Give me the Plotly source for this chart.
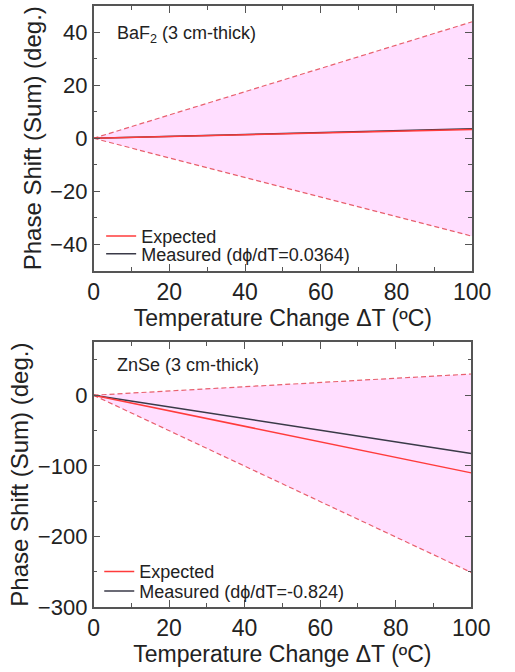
import plotly.graph_objects as go

# ---- data ----
dT = [0, 100]
baf2_upper = [0, 44]
baf2_lower = [0, -37]
baf2_expected = [0, 3.3]
baf2_measured = [0, 3.64]

znse_upper = [0, 30]
znse_lower = [0, -251]
znse_expected = [0, -110]
znse_measured = [0, -82.4]

x_ticks = [0, 20, 40, 60, 80, 100]
top_y_ticks = [-40, -20, 0, 20, 40]
bot_y_ticks = [-300, -200, -100, 0]

W, H = 515, 672
FONT = "Liberation Sans, Arial, sans-serif"
FILL = "rgba(255,222,255,1)"
DASH = "#e8606e"
RED = "#ff3b3b"
DARK = "#3a3a48"
AX = "#555555"
TXT = "#222222"

def px_x(a, b):
    return [a / W, b / W]

def px_y(top, bottom):
    return [1 - bottom / H, 1 - top / H]

fig = go.Figure()

panels = [
    dict(xa="x", ya="y", up=baf2_upper, lo=baf2_lower, ex=baf2_expected, me=baf2_measured,
         meas_label="Measured (d\u03d5/dT=0.0364)", leg_ex="legend", leg_me="legend2"),
    dict(xa="x2", ya="y2", up=znse_upper, lo=znse_lower, ex=znse_expected, me=znse_measured,
         meas_label="Measured (d\u03d5/dT=-0.824)", leg_ex="legend3", leg_me="legend4"),
]

for p in panels:
    fig.add_trace(go.Scatter(x=dT, y=p["up"], xaxis=p["xa"], yaxis=p["ya"], mode="lines",
                             line=dict(color=DASH, width=1.2, dash="5px,3px"), showlegend=False,
                             hoverinfo="skip"))
    fig.add_trace(go.Scatter(x=dT, y=p["lo"], xaxis=p["xa"], yaxis=p["ya"], mode="lines",
                             line=dict(color=DASH, width=1.2, dash="5px,3px"), fill="tonexty",
                             fillcolor=FILL, showlegend=False, hoverinfo="skip"))
    fig.add_trace(go.Scatter(x=dT, y=p["me"], xaxis=p["xa"], yaxis=p["ya"], mode="lines",
                             line=dict(color=DARK, width=1.5), name=p["meas_label"],
                             legend=p["leg_me"]))
    fig.add_trace(go.Scatter(x=dT, y=p["ex"], xaxis=p["xa"], yaxis=p["ya"], mode="lines",
                             line=dict(color=RED, width=1.5), name="Expected",
                             legend=p["leg_ex"]))

common_x = dict(range=[0, 100], tickvals=x_ticks, ticks="inside", ticklen=7, tickwidth=1.2,
                tickcolor=AX, showline=True, linecolor=AX, linewidth=1.5, mirror="ticks",
                showgrid=False, zeroline=False,
                minor=dict(dtick=10, ticks="inside", ticklen=4, tickcolor=AX, tickwidth=1.2),
                tickfont=dict(size=23, color=TXT),
                title=dict(text="Temperature Change \u0394T (\u00baC)", font=dict(size=23, color=TXT),
                           standoff=0))
common_y = dict(ticks="inside", ticklen=7, tickwidth=1.2, tickcolor=AX, showline=True,
                linecolor=AX, linewidth=1.5, mirror="ticks", showgrid=False, zeroline=False,
                tickfont=dict(size=22, color=TXT),
                title=dict(text="Phase Shift (Sum) (deg.)", font=dict(size=24, color=TXT),
                           standoff=2))

def leg(x, yc):
    return dict(x=x / W, y=1 - yc / H, xanchor="left", yanchor="middle",
                bgcolor="rgba(0,0,0,0)", font=dict(size=18, color=TXT),
                itemwidth=30, tracegroupgap=0)

fig.update_layout(
    width=W, height=H, margin=dict(l=0, r=0, t=0, b=0),
    paper_bgcolor="white", plot_bgcolor="white",
    font=dict(family=FONT, color=TXT),
    xaxis=dict(domain=px_x(92, 490), anchor="y", **common_x),
    yaxis=dict(domain=px_y(6, 276), anchor="x", range=[-50, 50], tickvals=top_y_ticks,
               minor=dict(dtick=10, ticks="inside", ticklen=4, tickcolor=AX, tickwidth=1.2),
               **common_y),
    xaxis2=dict(domain=px_x(92, 489), anchor="y2", **common_x),
    yaxis2=dict(domain=px_y(349, 619), anchor="x2", range=[-300, 75], tickvals=bot_y_ticks,
                minor=dict(dtick=50, ticks="inside", ticklen=4, tickcolor=AX, tickwidth=1.2),
                **common_y),
    legend=leg(100, 241),
    legend2=leg(100, 259),
    legend3=leg(98, 583),
    legend4=leg(98, 603),
    annotations=[
        dict(text="BaF<sub>2</sub> (3 cm-thick)", xref="paper", yref="paper",
             x=115 / W, y=1 - 35 / H, xanchor="left", yanchor="middle", showarrow=False,
             font=dict(size=18, color=TXT)),
        dict(text="ZnSe (3 cm-thick)", xref="paper", yref="paper",
             x=115 / W, y=1 - 372 / H, xanchor="left", yanchor="middle", showarrow=False,
             font=dict(size=18, color=TXT)),
    ],
)

fig.write_html("out.html")
